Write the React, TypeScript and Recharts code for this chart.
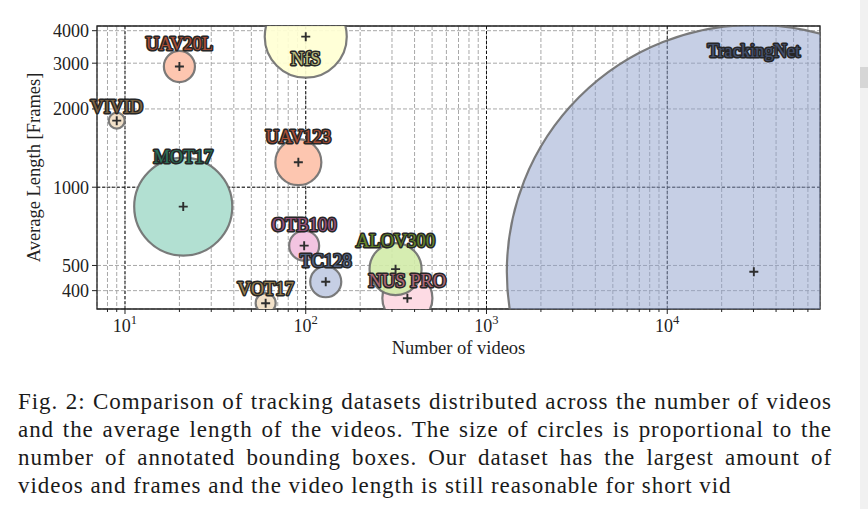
import React from "react";
import {
  CartesianGrid,
  ReferenceArea,
  ReferenceLine,
  Scatter,
  ScatterChart,
  XAxis,
  YAxis,
  ZAxis
} from "recharts";

// drawing order: big ones first, NUS PRO under ALOV300
const names = ["TrackingNet", "MOT17", "NfS", "UAV123", "UAV20L", "VIVID", "OTB100", "TC128", "VOT17", "NUS PRO", "ALOV300"];
const videos = [30132, 21, 100, 91, 20, 9, 98, 129, 60, 365, 314];
const avgLength = [473, 842, 3794, 1248, 2913, 1803, 596, 433, 358, 374, 484];
const boxes = [14400000, 568000, 397000, 125000, 57000, 15000, 53000, 57000, 23700, 148000, 160000];

const xDomain = [7, 70000];
const yDomain = [340, 4170];
const xMajorTicks = [10, 100, 1000, 10000];
const xTicks = [
  8, 9, 10, 20, 30, 40, 50, 60, 70, 80, 90,
  100, 200, 300, 400, 500, 600, 700, 800, 900,
  1000, 2000, 3000, 4000, 5000, 6000, 7000, 8000, 9000,
  10000, 20000, 30000, 40000, 50000, 60000
];
const yTicks = [400, 500, 1000, 2000, 3000, 4000];
const yMajorTicks = [1000];

const captionLines = [
  "Fig. 2: Comparison of tracking datasets distributed across the number of videos",
  "and the average length of the videos. The size of circles is proportional to the",
  "number of annotated bounding boxes. Our dataset has the largest amount of",
  "videos and frames and the video length is still reasonable for short vid"
];

const rows = names.map((name, i) => ({
  name,
  videos: videos[i],
  avgLength: avgLength[i],
  boxes: boxes[i]
}));

// bubble area in px^2 per annotated box
const AREA_PER_BOX = 0.01331;
const zMax = 15000000;

const serif = "'Liberation Serif', 'Times New Roman', serif";

const bubbleStyle: Record<string, { fill: string; text: string; opacity: number; dy: number }> = {
  TrackingNet: { fill: "#8da0cb", text: "#44506e", opacity: 0.5, dy: -215 },
  MOT17: { fill: "#b2e0d2", text: "#2a7059", opacity: 1, dy: -44 },
  NfS: { fill: "#ffffd4", text: "#b9b97a", opacity: 0.92, dy: 28 },
  UAV123: { fill: "#fdc6b0", text: "#a94d33", opacity: 1, dy: -19 },
  UAV20L: { fill: "#fdc6b0", text: "#a94d33", opacity: 1, dy: -16 },
  VIVID: { fill: "#f2e1c9", text: "#7e6442", opacity: 1, dy: -8 },
  OTB100: { fill: "#f3c4e1", text: "#96527d", opacity: 1, dy: -15 },
  TC128: { fill: "#c6cfe5", text: "#526282", opacity: 1, dy: -15 },
  VOT17: { fill: "#f2e1c9", text: "#9c804c", opacity: 1, dy: -8 },
  "NUS PRO": { fill: "#fddbe4", text: "#ab6777", opacity: 1, dy: -11 },
  ALOV300: { fill: "#d2eba9", text: "#64832a", opacity: 0.9, dy: -22 }
};

const radiusOf = (p: any) => (p.width ? p.width / 2 : Math.sqrt(Math.max(p.size || 0, 0) / Math.PI));

const Bubble = (p: any) => {
  const s = bubbleStyle[p.payload.name];
  return (
    <circle
      cx={p.cx}
      cy={p.cy}
      r={radiusOf(p)}
      fill={s.fill}
      fillOpacity={s.opacity}
      stroke="#6e6e6e"
      strokeOpacity={0.9}
      strokeWidth={2.2}
    />
  );
};

const Tag = (p: any) => {
  const s = bubbleStyle[p.payload.name];
  const { cx, cy } = p;
  return (
    <g>
      <path d={`M${cx - 4.5},${cy}h9M${cx},${cy - 4.5}v9`} stroke="#2e2e2e" strokeWidth={1.9} />
      <text
        x={cx}
        y={cy + s.dy}
        textAnchor="middle"
        fontFamily={serif}
        fontSize={18.5}
        fill={s.text}
        stroke="#262626"
        strokeWidth={3}
        strokeLinejoin="round"
        paintOrder="stroke"
      >
        {p.payload.name}
      </text>
    </g>
  );
};

const XTick = (props: any) => {
  const { x, y, payload } = props;
  const v = payload.value;
  const exp = Math.round(Math.log10(v));
  const major = xMajorTicks.includes(v);
  return (
    <g>
      <line x1={x} x2={x} y1={y} y2={y + (major ? 5 : 3)} stroke="#222" strokeWidth={1} />
      {major && (
        <text x={x} y={y + 23} textAnchor="middle" fontFamily={serif} fontSize={18} fill="#222">
          10
          <tspan dy={-8} fontSize={12.5}>
            {exp}
          </tspan>
        </text>
      )}
    </g>
  );
};

const YLabel = (props: any) => {
  const vb = props.viewBox || { x: 37, y: 26, width: 60, height: 283 };
  const x = vb.x + 3;
  const y = vb.y + vb.height / 2;
  return (
    <text x={x} y={y} transform={`rotate(-90 ${x} ${y})`} textAnchor="middle" fontFamily={serif} fontSize={18.5} fill="#222">
      Average Length [Frames]
    </text>
  );
};

const XLabel = (props: any) => {
  const vb = props.viewBox || { x: 97, y: 309, width: 723, height: 50 };
  return (
    <text x={vb.x + vb.width / 2} y={vb.y + 45} textAnchor="middle" fontFamily={serif} fontSize={18.5} fill="#222">
      Number of videos
    </text>
  );
};

export default function App() {
  return (
    <div style={{ position: "absolute", left: 0, top: 0, width: 868, height: 509, background: "#fff", overflow: "hidden" }}>
      <ScatterChart width={868} height={365} margin={{ top: 26, right: 48, left: 37, bottom: 6 }}>
        <CartesianGrid stroke="#a8a8a8" strokeDasharray="4 2" />
        <XAxis
          type="number"
          dataKey="videos"
          scale="log"
          domain={xDomain}
          allowDataOverflow
          ticks={xTicks}
          interval={0}
          tick={<XTick />}
          tickLine={false}
          tickSize={0}
          tickMargin={0}
          axisLine={false}
          height={50}
          label={{ content: <XLabel /> }}
        />
        <YAxis
          type="number"
          dataKey="avgLength"
          scale="log"
          domain={yDomain}
          allowDataOverflow
          ticks={yTicks}
          interval={0}
          width={60}
          axisLine={false}
          stroke="#222"
          tickSize={5}
          tickMargin={3}
          tick={{ fontSize: 18, fill: "#222", fontFamily: serif }}
          label={{ content: <YLabel /> }}
        />
        {/* unclipped twins for the labels */}
        <XAxis xAxisId="tag" type="number" dataKey="videos" scale="log" domain={xDomain} hide />
        <YAxis yAxisId="tag" type="number" dataKey="avgLength" scale="log" domain={yDomain} hide />
        <ZAxis type="number" dataKey="boxes" domain={[0, zMax]} range={[0, zMax * AREA_PER_BOX]} />
        {xMajorTicks.map((v) => (
          <ReferenceLine key={`vx${v}`} x={v} stroke="#111" strokeDasharray="3 2" strokeWidth={1} />
        ))}
        {yMajorTicks.map((v) => (
          <ReferenceLine key={`hy${v}`} y={v} stroke="#111" strokeDasharray="3 2" strokeWidth={1} />
        ))}
        <Scatter data={rows} shape={Bubble} isAnimationActive={false} />
        <Scatter data={rows} shape={Tag} xAxisId="tag" yAxisId="tag" isAnimationActive={false} />
        <ReferenceArea
          x1={xDomain[0]}
          x2={xDomain[1]}
          y1={yDomain[0]}
          y2={yDomain[1]}
          fill="none"
          stroke="#222"
          strokeWidth={1.3}
          ifOverflow="visible"
        />
      </ScatterChart>
      <div
        style={{
          position: "absolute",
          left: 18,
          top: 388,
          fontFamily: serif,
          fontSize: 23,
          lineHeight: "28px",
          color: "#1a1a1a",
          letterSpacing: 0.95
        }}
      >
        {captionLines.map((line, i) => (
          <div
            key={i}
            style={{
              width: i === captionLines.length - 1 ? 700 : 814,
              whiteSpace: "nowrap",
              textAlign: "justify",
              textAlignLast: "justify"
            }}
          >
            {line}
          </div>
        ))}
      </div>
      <div style={{ position: "absolute", left: 860, top: 0, width: 8, height: 509, background: "#f1f1f1" }} />
      <div style={{ position: "absolute", left: 860, top: 67, width: 8, height: 21, background: "#d6d6d6" }} />
    </div>
  );
}
